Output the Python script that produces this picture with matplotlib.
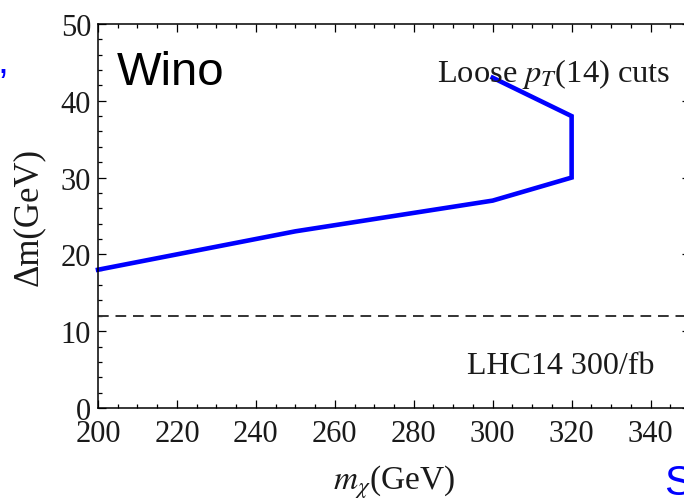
import matplotlib
matplotlib.use("Agg")
import numpy as np
import matplotlib.pyplot as plt
from matplotlib.ticker import MultipleLocator

plt.rcParams['font.family'] = ['Liberation Serif', 'DejaVu Serif']
plt.rcParams['mathtext.fontset'] = 'stix'

# reach contour for the wino, LHC14 300/fb, loose pT(14) cuts
m_chi = [200, 250, 300, 320, 320, 300]
delta_m = [18, 23, 27, 30, 38, 43]
dm_cut = 12

fig = plt.figure(figsize=(6.84, 5.02), dpi=100)
ax = fig.add_axes([0.1433, 0.1853, 0.8655, 0.765])

ax.plot(m_chi, delta_m, color=(0, 0, 1), lw=3.3, solid_joinstyle='miter', clip_on=False)
ax.axhline(dm_cut, color='#333333', lw=1.4, dashes=(5.5, 3.5))

ax.set_xlim(200, 350)
ax.set_ylim(0, 50)
ax.xaxis.set_major_locator(MultipleLocator(20))
ax.xaxis.set_minor_locator(MultipleLocator(5))
ax.yaxis.set_major_locator(MultipleLocator(10))
ax.yaxis.set_minor_locator(MultipleLocator(2))
ax.tick_params(which='both', direction='in', top=True, right=True, color='black', width=0.9)
ax.tick_params(which='major', length=6)
ax.tick_params(which='minor', length=3)
ax.tick_params(axis='x', which='major', labelsize=22, pad=8, labelcolor='#1a1a1a')
ax.tick_params(axis='y', which='major', labelsize=22, pad=5, labelcolor='#1a1a1a')
for s in ax.spines.values():
    s.set_linewidth(1.1)

ax.set_xlabel(r'$m_{\chi}$(GeV)', fontsize=24, color='#1a1a1a', labelpad=10)
ax.set_ylabel('Δm(GeV)', fontsize=25, color='#1a1a1a', labelpad=11)

ax.text(204.8, 42.2, 'Wino', family='Liberation Sans', fontsize=34, va='baseline')
ax.text(285.8, 42.6, r'Loose $p_T$(14) cuts', fontsize=23.4, va='baseline', color='#1a1a1a')
ax.text(293.4, 4.6, 'LHC14 300/fb', fontsize=23, va='baseline', color='#1a1a1a')

# fragments of the surrounding slide text
fig.text(-0.004, 0.855, ',', family='Liberation Sans', fontsize=28, color='blue', va='baseline')
fig.text(0.971, 0.014, 'S', family='Liberation Sans', fontsize=30, color='blue', va='baseline')

fig.savefig('out.png', dpi=100)
